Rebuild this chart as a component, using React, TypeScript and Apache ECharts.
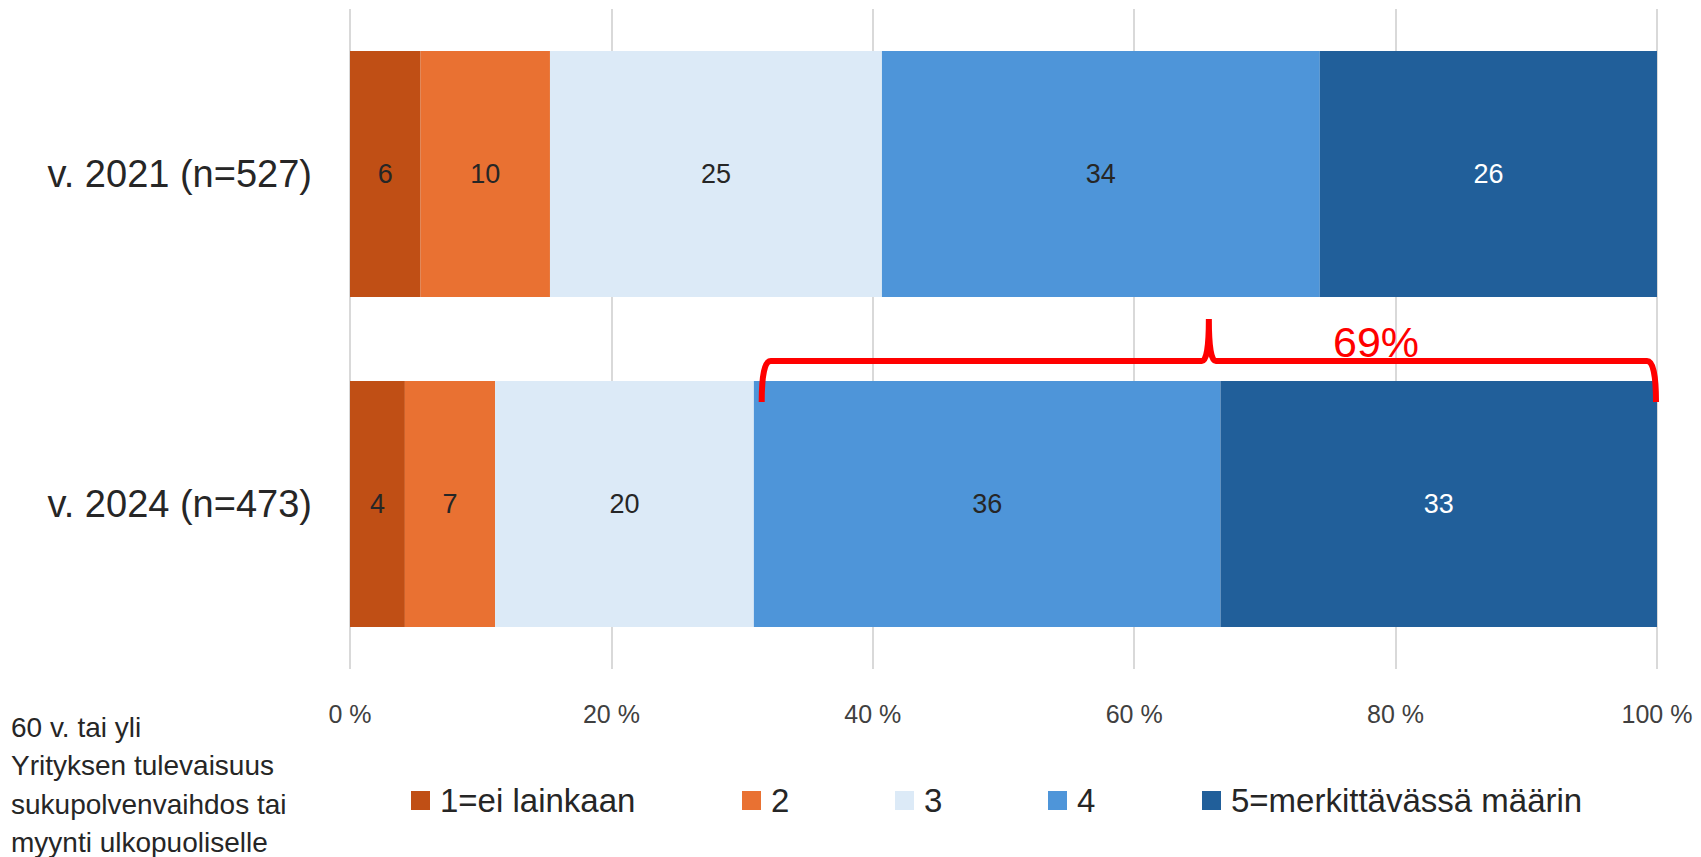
import React, { useEffect, useRef } from "react";
import * as echarts from "echarts";

const categories = ["v. 2021 (n=527)", "v. 2024 (n=473)"];
const seriesNames = ["1=ei lainkaan", "2", "3", "4", "5=merkittävässä määrin"];
const seriesColors = ["#C04F15", "#E97132", "#DCEAF7", "#4E95D9", "#215F9A"];
const labelColors = ["#262626", "#262626", "#262626", "#262626", "#FFFFFF"];
// share (%) per answer class, per year
const values2021 = [5.4, 9.9, 25.4, 33.5, 25.8];
const values2024 = [4.2, 6.9, 19.8, 35.7, 33.4];
// labels as printed in the reference
const labels2021 = [6, 10, 25, 34, 26];
const labels2024 = [4, 7, 20, 36, 33];
const legendLeft = [411, 742, 895, 1048, 1202];
const footnoteLines = ["60 v. tai yli", "Yrityksen tulevaisuus", "sukupolvenvaihdos tai", "myynti ulkopuoliselle"];
const footnoteY = [727, 765, 804, 842];
const braceText = "69%";
const braceFromPct = 31.5;
const braceToPct = 100;
const braceTextPct = 78.5;

const FONT = "'Liberation Sans', Arial, sans-serif";

export default function App() {
  const ref = useRef<HTMLDivElement>(null);
  useEffect(() => {
    if (!ref.current) return;
    const chart = echarts.init(ref.current, undefined, { renderer: "svg" });
    const series = seriesNames.map((name, i) => ({
      name,
      type: "bar",
      stack: "total",
      barCategoryGap: "25.5%",
      itemStyle: { color: seriesColors[i] },
      label: {
        show: true,
        position: "inside",
        color: labelColors[i],
        fontSize: 27,
        fontFamily: FONT,
        formatter: (p: any) => String(p.dataIndex === 0 ? labels2021[i] : labels2024[i]),
      },
      data: [values2021[i], values2024[i]],
    }));
    const option: any = {
      animation: false,
      textStyle: { fontFamily: FONT },
      grid: { left: 350, right: 44, top: 9, bottom: 188, containLabel: false },
      xAxis: {
        type: "value",
        min: 0,
        max: 100,
        interval: 20,
        axisLine: { show: false },
        axisTick: { show: false },
        splitLine: { show: true, lineStyle: { color: "#D9D9D9", width: 2 } },
        axisLabel: {
          formatter: "{value} %",
          fontSize: 25,
          color: "#404040",
          margin: 32,
          fontFamily: FONT,
        },
      },
      yAxis: {
        type: "category",
        data: categories,
        inverse: true,
        axisLine: { show: false },
        axisTick: { show: false },
        axisLabel: { fontSize: 38, color: "#262626", margin: 38, fontFamily: FONT },
      },
      legend: seriesNames.map((name, i) => ({
        data: [name],
        left: legendLeft[i],
        top: 784,
        padding: 0,
        itemWidth: 19,
        itemHeight: 19,
        icon: "rect",
        selectedMode: false,
        textStyle: { fontSize: 33, color: "#262626", fontFamily: FONT, padding: [0, 0, 0, 5] },
      })),
      series,
    };
    chart.setOption(option);

    const p0 = chart.convertToPixel({ gridIndex: 0 }, [braceFromPct, 0]) as number[];
    const p1 = chart.convertToPixel({ gridIndex: 0 }, [braceToPct, 1]) as number[];
    const c0 = chart.convertToPixel({ gridIndex: 0 }, [0, 0]) as number[];
    const band = p1[1] - c0[1];
    const barTop = p1[1] - (band * 0.745) / 2;
    const xL = p0[0];
    const xR = p1[0] - 1;
    const xM = (xL + xR) / 2;
    const yH = barTop - 20;
    const yB = barTop + 21;
    const yT = yH - 42;
    const d =
      `M ${xL} ${yB} Q ${xL} ${yH} ${xL + 9} ${yH} L ${xM - 7} ${yH} ` +
      `Q ${xM} ${yH} ${xM} ${yT} Q ${xM} ${yH} ${xM + 7} ${yH} ` +
      `L ${xR - 9} ${yH} Q ${xR} ${yH} ${xR} ${yB}`;
    echarts.graphic.registerShape("brace", echarts.graphic.extendPath(d, {}));
    const tx = (chart.convertToPixel({ gridIndex: 0 }, [braceTextPct, 1]) as number[])[0];

    chart.setOption({
      graphic: [
        {
          type: "brace",
          x: 0,
          y: 0,
          z: 100,
          style: { stroke: "#FF0000", lineWidth: 6, fill: "none" },
        },
        {
          type: "text",
          x: tx,
          y: yH + 2,
          z: 100,
          style: {
            text: braceText,
            fill: "#FF0000",
            fontSize: 43,
            fontFamily: FONT,
            align: "center",
            verticalAlign: "bottom",
          },
        },
        ...footnoteLines.map((t, i) => ({
          type: "text",
          x: 11,
          y: footnoteY[i],
          style: {
            text: t,
            fill: "#262626",
            fontSize: 28,
            fontFamily: FONT,
            verticalAlign: "middle",
          },
        })),
      ],
    });
    return () => chart.dispose();
  }, []);
  return (
    <div
      ref={ref}
      style={{ position: "fixed", left: 0, top: 0, width: 1701, height: 857, background: "#fff" }}
    />
  );
}
